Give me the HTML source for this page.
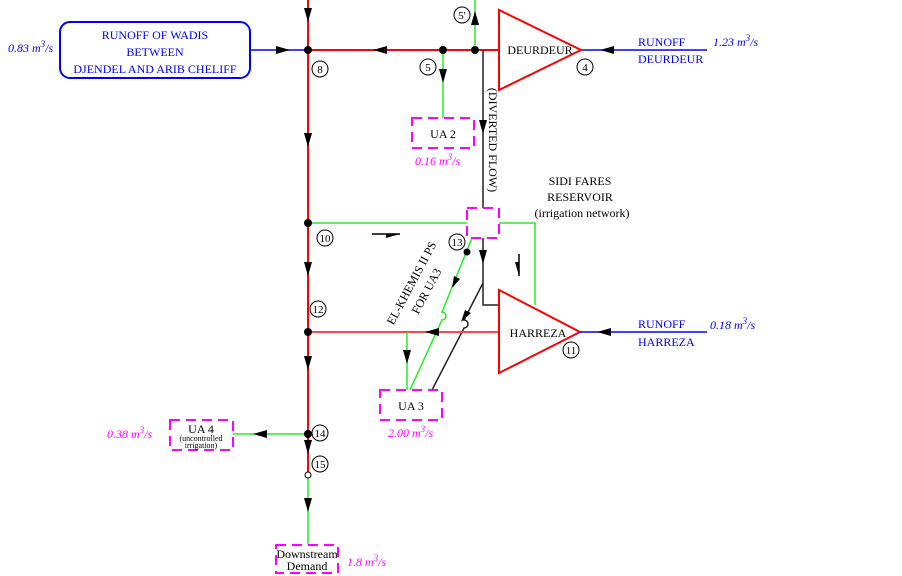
<!DOCTYPE html>
<html><head><style>body{margin:0;background:#fff}svg{display:block}</style></head><body>
<svg width="902" height="576" viewBox="0 0 902 576" xmlns="http://www.w3.org/2000/svg" font-family="Liberation Serif, serif">
<g fill="none" stroke-width="2">
<path d="M308,0 V475" stroke="#f00"/>
<path d="M308,475 V545" stroke="#2e2" stroke-width="1.5"/>
<path d="M308,50 H499" stroke="#f00"/>
<path d="M250,50 H308" stroke="#00f" stroke-width="1.5"/>
<path d="M581,50 H707" stroke="#00f" stroke-width="1.5"/>
<polygon points="499,10 499,90 581,50" stroke="#f00"/>
<rect x="60" y="22" width="190" height="56" rx="10" stroke="#00f"/>
<path d="M443,50 V118" stroke="#2e2" stroke-width="1.5"/>
<path d="M475,50 V0" stroke="#2e2" stroke-width="1.5"/>
<path d="M483,50 V208" stroke="#222" stroke-width="1.5"/>
<path d="M308,223 H467 M499,223 H535 V305" stroke="#2e2" stroke-width="1.5"/>
<path d="M472,238 L442,312 a4,4 0 0 1 0,8 L410,390" stroke="#2e2" stroke-width="1.5"/>
<path d="M483,238 V305 H499" stroke="#222" stroke-width="1.5"/>
<path d="M483,283 L464,320 a4,4 0 0 1 0,8 L432,390" stroke="#222" stroke-width="1.5"/>
<path d="M308,332 H499" stroke="#f44"/>
<polygon points="499,290 499,373 580,332" stroke="#f00"/>
<path d="M580,332 H707" stroke="#00f" stroke-width="1.5"/>
<path d="M407,332 V390" stroke="#2e2" stroke-width="1.5"/>
<path d="M308,434 H233" stroke="#2e2" stroke-width="1.5"/>
<path d="M372,234 H400" stroke="#000" stroke-width="1.5"/>
<path d="M519,254 V276" stroke="#000" stroke-width="1.5"/>
<g stroke="#f0f" stroke-width="2" stroke-dasharray="10,6">
<rect x="412" y="118" width="62" height="30"/>
<rect x="467" y="208" width="32" height="30"/>
<rect x="380" y="390" width="62" height="30"/>
<rect x="170" y="420" width="63" height="30"/>
<rect x="276" y="545" width="62" height="28"/>
</g>
</g>
<g stroke="none" fill="#000">
<path d="M304,8 h8 l-4,14z"/><path d="M304,133 h8 l-4,14z"/><path d="M304,262 h8 l-4,14z"/><path d="M304,356 h8 l-4,14z"/><path d="M304,440 h8 l-4,14z"/>
<path d="M304,498 h8 l-4,14z"/>
<path d="M276,46 v8 l14,-4z"/>
<path d="M387,46 v8 l-14,-4z"/>
<path d="M614,46 v8 l-14,-4z"/><path d="M611,328 v8 l-14,-4z"/>
<path d="M439,328 v8 l-14,-4z"/>
<path d="M439,69 h8 l-4,14z"/><path d="M403,350 h8 l-4,14z"/>
<path d="M471,25 h8 l-4,-14z"/>
<path d="M479,120 h8 l-4,14z"/><path d="M479,250 h8 l-4,14z"/>
<path d="M267,430 v8 l-14,-4z"/>
<path d="M386,234 L400,234 L386,238z"/>
<path d="M519,262 L519,276 L515,262z"/>
<path d="M454,276 l6,3 l-8,9z"/><path d="M465,310 l6,3 l-10,9z"/>
<circle cx="308" cy="50" r="4"/><circle cx="443" cy="50" r="4"/><circle cx="475" cy="50" r="4"/>
<circle cx="308" cy="223" r="4"/><circle cx="308" cy="332" r="4"/><circle cx="308" cy="434" r="4"/><circle cx="467" cy="252" r="3.5"/>
</g>
<circle cx="308" cy="475" r="3" fill="#fff" stroke="#000"/>
<g fill="#fff" stroke="#000" stroke-width="1">
<circle cx="320" cy="69" r="8"/><circle cx="428" cy="67" r="8"/><circle cx="462" cy="15" r="8"/><circle cx="585" cy="67" r="8"/>
<circle cx="325" cy="238" r="8"/><circle cx="318" cy="309" r="8"/><circle cx="457" cy="242" r="8"/><circle cx="571" cy="350" r="8"/>
<circle cx="320" cy="433" r="8"/><circle cx="320" cy="464" r="8"/>
</g>
<g font-size="11" text-anchor="middle" fill="#000">
<text x="320" y="73">8</text><text x="428" y="71">5</text><text x="462" y="19">5'</text><text x="585" y="71">4</text>
<text x="325" y="242">10</text><text x="318" y="313">12</text><text x="457" y="246">13</text><text x="571" y="354">11</text>
<text x="320" y="437">14</text><text x="320" y="468">15</text>
</g>
<g font-size="12" fill="#000" text-anchor="middle">
<text x="540" y="54">DEURDEUR</text>
<text x="538" y="337">HARREZA</text>
<text x="443" y="138">UA 2</text>
<text x="411" y="410">UA 3</text>
<text x="201" y="433">UA 4</text>
<text x="201" y="441" font-size="8">(uncontrolled</text>
<text x="201" y="448" font-size="8">irrigation)</text>
<text x="307" y="558">Downstream</text>
<text x="307" y="570">Demand</text>
<text x="580" y="185">SIDI FARES</text>
<text x="580" y="201">RESERVOIR</text>
<text x="582" y="217">(irrigation network)</text>
<text transform="translate(489,140) rotate(90)">(DIVERTED FLOW)</text>
<text transform="translate(415,285) rotate(-62)">EL-KHEMIS II PS</text>
<text transform="translate(430,293) rotate(-62)">FOR UA3</text>
</g>
<g font-size="12" fill="#00f" text-anchor="middle">
<text x="155" y="39">RUNOFF OF WADIS</text>
<text x="155" y="56">BETWEEN</text>
<text x="155" y="73">DJENDEL AND ARIB CHELIFF</text>
<text x="638" y="46" text-anchor="start">RUNOFF</text>
<text x="638" y="63" text-anchor="start">DEURDEUR</text>
<text x="638" y="328" text-anchor="start">RUNOFF</text>
<text x="638" y="346" text-anchor="start">HARREZA</text>
</g>
<g font-size="12" font-style="italic">
<text x="8" y="52" fill="#00f">0.83 m<tspan dy="-5" font-size="9">3</tspan><tspan dy="5">/s</tspan></text>
<text x="713" y="46" fill="#00f">1.23 m<tspan dy="-5" font-size="9">3</tspan><tspan dy="5">/s</tspan></text>
<text x="710" y="329" fill="#00f">0.18 m<tspan dy="-5" font-size="9">3</tspan><tspan dy="5">/s</tspan></text>
<text x="415" y="165" fill="#f0f">0.16 m<tspan dy="-5" font-size="9">3</tspan><tspan dy="5">/s</tspan></text>
<text x="388" y="437" fill="#f0f">2.00 m<tspan dy="-5" font-size="9">3</tspan><tspan dy="5">/s</tspan></text>
<text x="107" y="438" fill="#f0f">0.38 m<tspan dy="-5" font-size="9">3</tspan><tspan dy="5">/s</tspan></text>
<text x="347" y="566" fill="#f0f">1.8 m<tspan dy="-5" font-size="9">3</tspan><tspan dy="5">/s</tspan></text>
</g>
</svg>
</body></html>
